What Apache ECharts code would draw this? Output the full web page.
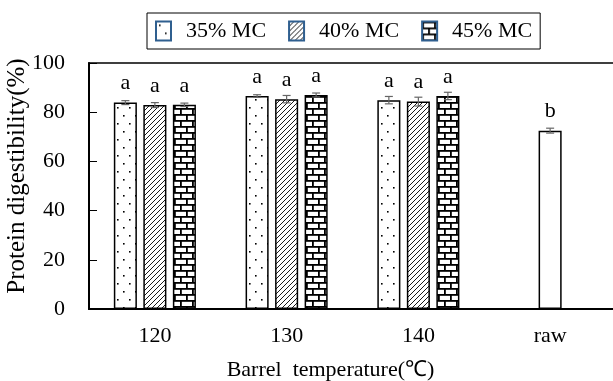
<!DOCTYPE html>
<html>
<head>
<meta charset="utf-8">
<script src="https://cdn.jsdelivr.net/npm/echarts@6/dist/echarts.min.js"></script>
<style>
  html, body { margin: 0; padding: 0; background: #fff; }
  #main { width: 613px; height: 381px; }
</style>
</head>
<body>
<div id="main"></div>
<script>
var categories = ['120', '130', '140', 'raw'];
var mc35 = [83.9, 86.6, 84.9, null];
var mc40 = [82.9, 85.3, 84.3, 72.5];   // raw sample sits in the middle slot
var mc45 = [83.0, 87.0, 86.6, null];
var err35 = [0.8, 0.5, 1.5, null];
var err40 = [1.0, 1.5, 1.8, 1.0];
var err45 = [0.7, 0.8, 1.5, null];
var let35 = ['a', 'a', 'a', ''];
var let40 = ['a', 'a', 'a', 'b'];
var let45 = ['a', 'a', 'a', ''];
var yTicks = [0, 20, 40, 60, 80, 100];

var FONT = 'Liberation Serif';
var BAR_W = 0.175, BAR_GAP = 0.28;

// fill patterns drawn on small canvases
function tile(w, h, draw) {
    var c = document.createElement('canvas');
    c.width = w; c.height = h;
    var ctx = c.getContext('2d');
    ctx.fillStyle = '#fff';
    ctx.fillRect(0, 0, w, h);
    ctx.fillStyle = '#000';
    ctx.strokeStyle = '#000';
    draw(ctx);
    return { image: c, repeat: 'repeat' };
}
var dots = tile(12, 16, function(ctx) {
    ctx.fillRect(3, 3, 1.6, 1.6);
    ctx.fillRect(9, 11, 1.6, 1.6);
});
var hatch = tile(5, 5, function(ctx) {
    ctx.lineWidth = 0.9;
    ctx.beginPath();
    ctx.moveTo(-1, 6); ctx.lineTo(6, -1);
    ctx.moveTo(-1, 1); ctx.lineTo(1, -1);
    ctx.moveTo(4, 6); ctx.lineTo(6, 4);
    ctx.stroke();
});
var brick = tile(12, 12, function(ctx) {
    ctx.fillRect(0, 0, 12, 1.8);
    ctx.fillRect(0, 6, 12, 1.8);
    ctx.fillRect(0, 0, 1.8, 6);
    ctx.fillRect(6, 6, 1.8, 6);
});

function withWhiteRaw(vals) {
    return vals.map(function(v, i) {
        if (categories[i] === 'raw' && v != null) {
            return { value: v, itemStyle: { color: '#fff' } };
        }
        return v;
    });
}

function barSeries(name, vals, fill, letters) {
    return {
        name: name,
        type: 'bar',
        barWidth: (BAR_W * 100) + '%',
        barGap: (BAR_GAP * 100) + '%',
        data: withWhiteRaw(vals),
        itemStyle: { color: fill, borderColor: '#000', borderWidth: 1.5 },
        label: {
            show: true,
            position: 'top',
            distance: 8,
            fontFamily: FONT,
            fontSize: 22,
            color: '#000',
            formatter: function(p) { return letters[p.dataIndex]; }
        }
    };
}

// error bar data: [category index, mean, sd, slot]
var errData = [];
[[mc35, err35, -1], [mc40, err40, 0], [mc45, err45, 1]].forEach(function(s) {
    s[0].forEach(function(v, i) {
        if (v != null) errData.push([i, v, s[1][i], s[2]]);
    });
});

var myChart = echarts.init(document.getElementById('main'));

option = {
    animation: false,
    grid: {
        left: 89, top: 63, right: -3, bottom: 72,
        outerBoundsMode: 'none',
        containLabel: false,
        show: true, borderColor: '#000', borderWidth: 1.5
    },
    legend: {
        data: ['35% MC', '40% MC', '45% MC'],
        left: 147, top: 13,
        padding: [7, 8, 7, 8],
        icon: 'rect',
        itemWidth: 15, itemHeight: 19, itemGap: 22,
        borderColor: '#000', borderWidth: 1,
        itemStyle: { borderColor: '#2f5f8f', borderWidth: 2 },
        textStyle: { fontFamily: FONT, fontSize: 22, color: '#000', padding: [0, 0, 0, 10] }
    },
    xAxis: {
        type: 'category',
        data: categories,
        name: 'Barrel  temperature(\u2103)',
        nameLocation: 'middle',
        nameGap: 50,
        nameMoveOverlap: false,
        nameTextStyle: { fontFamily: FONT, fontSize: 22, color: '#000', padding: [0, 44, 0, 0] },
        axisLine: { lineStyle: { color: '#000', width: 2 } },
        axisTick: { show: false },
        axisLabel: { fontFamily: FONT, fontSize: 22, color: '#000', margin: 16 }
    },
    yAxis: {
        type: 'value',
        min: yTicks[0], max: yTicks[yTicks.length - 1], interval: 20,
        name: 'Protein digestibility(%)',
        nameLocation: 'middle',
        nameGap: 59,
        nameMoveOverlap: false,
        nameTextStyle: { fontFamily: FONT, fontSize: 25, color: '#000', padding: [0, 0, 0, 20] },
        axisLine: { show: true, lineStyle: { color: '#000', width: 2 } },
        axisTick: { show: true, inside: true, length: 8, lineStyle: { color: '#000' } },
        axisLabel: { fontFamily: FONT, fontSize: 22, color: '#000', margin: 24 },
        splitLine: { show: false }
    },
    series: [
        barSeries('35% MC', mc35, dots, let35),
        barSeries('40% MC', mc40, hatch, let40),
        barSeries('45% MC', mc45, brick, let45),
        {
            type: 'custom',
            z: 10,
            data: errData,
            renderItem: function(params, api) {
                var i = api.value(0), m = api.value(1), sd = api.value(2), slot = api.value(3);
                var bw = api.size([1, 0])[0] * BAR_W;
                var dx = slot * bw * (1 + BAR_GAP);
                var hi = api.coord([i, m + sd]);
                var lo = api.coord([i, m - sd]);
                var x = hi[0] + dx, cap = 4;
                var st = { stroke: '#666', lineWidth: 1.2 };
                return {
                    type: 'group',
                    children: [
                        { type: 'line', shape: { x1: x, y1: hi[1], x2: x, y2: lo[1] }, style: st },
                        { type: 'line', shape: { x1: x - cap, y1: hi[1], x2: x + cap, y2: hi[1] }, style: st },
                        { type: 'line', shape: { x1: x - cap, y1: lo[1], x2: x + cap, y2: lo[1] }, style: st }
                    ]
                };
            }
        }
    ]
};

myChart.setOption(option);
</script>
</body>
</html>
